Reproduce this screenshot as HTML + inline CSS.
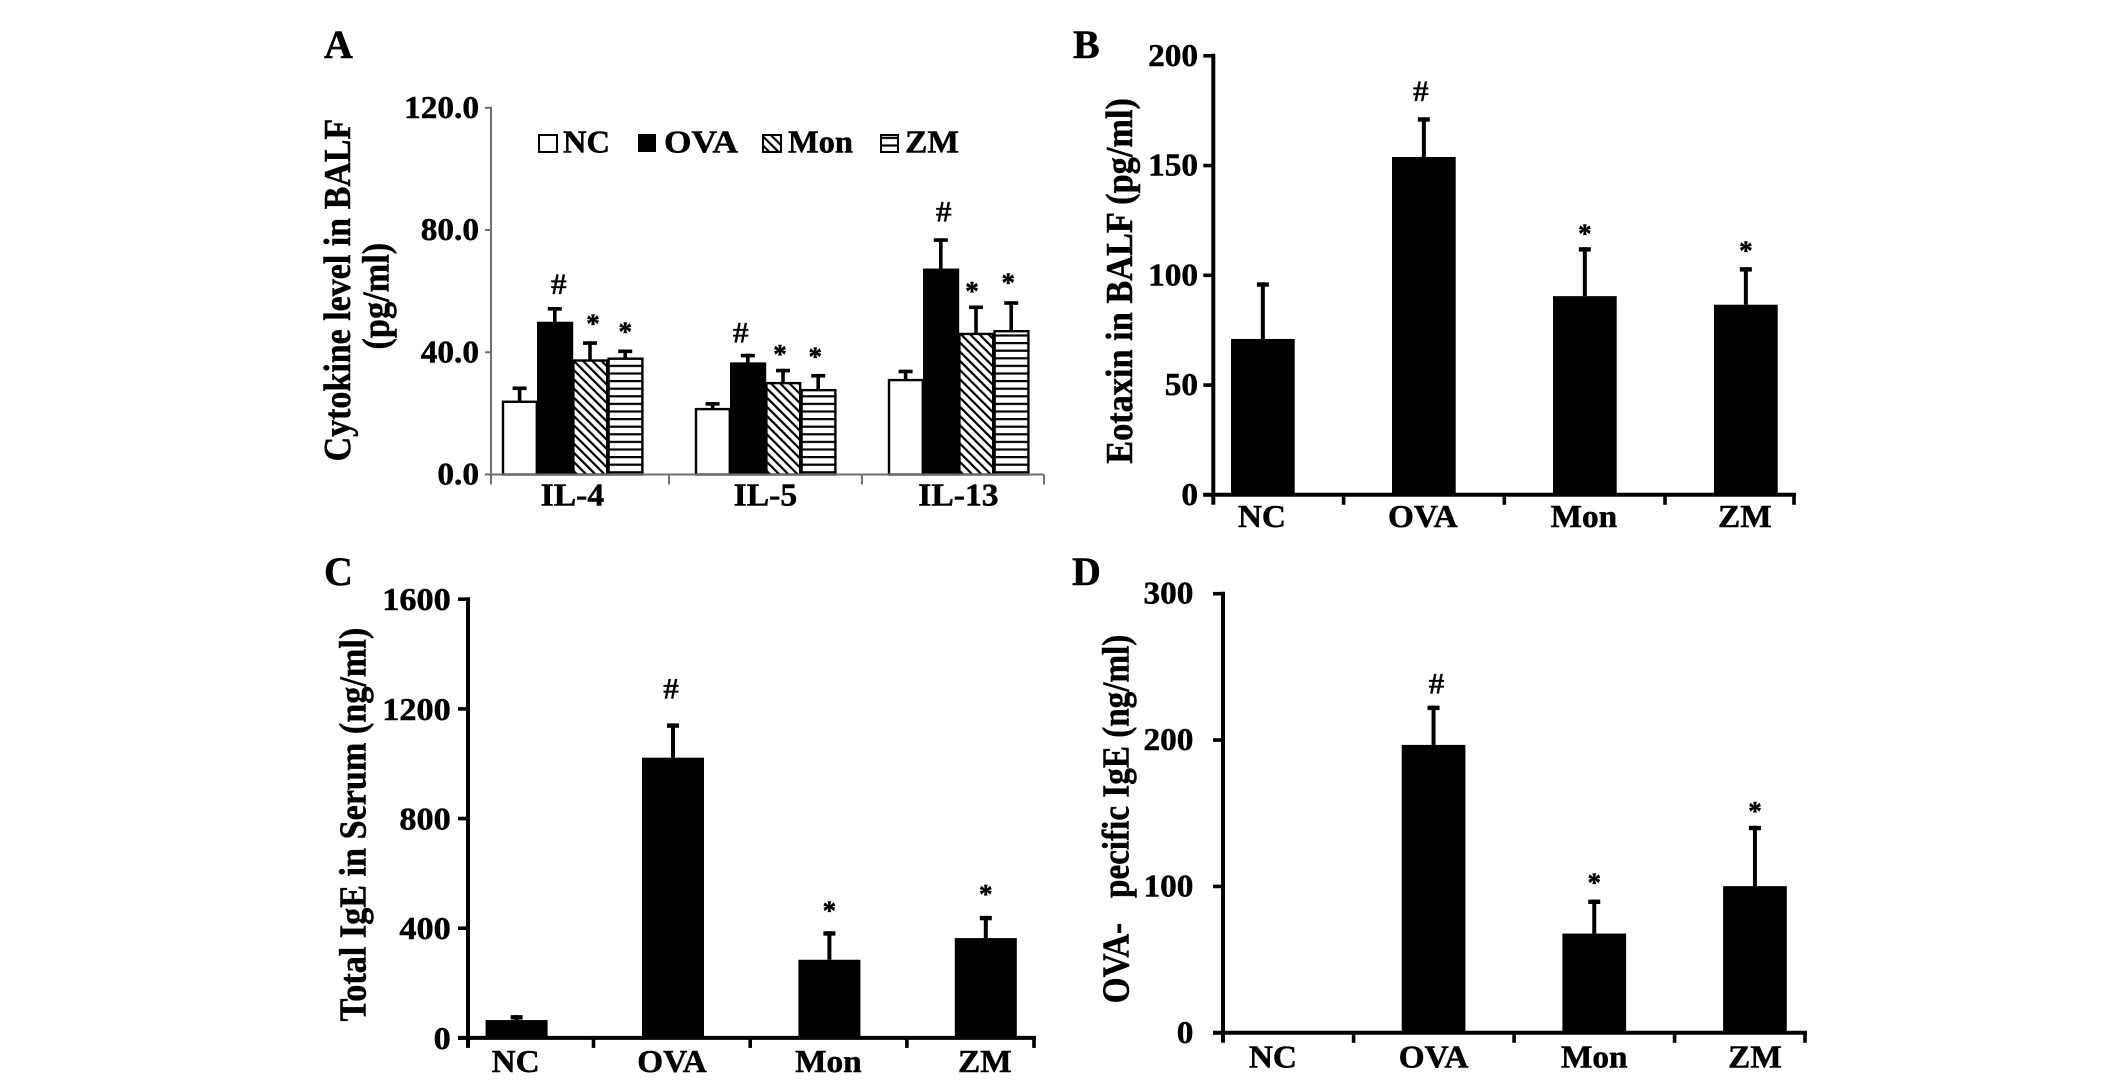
<!DOCTYPE html>
<html lang="en">
<head>
<meta charset="utf-8">
<title>Cytokine, eotaxin and IgE levels by treatment group</title>
<style>
  html, body { margin: 0; padding: 0; background: #fff; }
  svg { display: block; }
  text { font-family: "Liberation Serif", serif; fill: #000; font-weight: bold; stroke: #000; stroke-width: 0.5px; }
  svg { filter: blur(0.35px); }
</style>
</head>
<body>
<svg id="figure" xmlns="http://www.w3.org/2000/svg" width="2126" height="1080" viewBox="0 0 2126 1080">
  <defs>
    <pattern id="hatch-diagonal" patternUnits="userSpaceOnUse" width="6.5" height="6.5" patternTransform="rotate(-45) translate(0 0)">
      <rect width="6.5" height="6.5" fill="#fff"></rect>
      <rect x="0" y="0" width="2.2" height="6.5" fill="#000"></rect>
    </pattern>
    <pattern id="hatch-horizontal" patternUnits="userSpaceOnUse" width="8" height="7.6">
      <rect width="8" height="7.6" fill="#fff"></rect>
      <rect x="0" y="0" width="8" height="2.2" fill="#000"></rect>
    </pattern>
  </defs>
  <rect width="2126" height="1080" fill="#fff"></rect>

  <text x="324" y="58" font-size="40">A</text>
  <text x="1073" y="58" font-size="40">B</text>
  <text x="324" y="585" font-size="40">C</text>
  <text x="1072" y="585" font-size="40">D</text>

  <text transform="translate(350 461.4) rotate(-90)" font-size="38" textLength="342.6" lengthAdjust="spacingAndGlyphs">Cytokine level in BALF</text>
  <text transform="translate(388.5 349.5) rotate(-90)" font-size="38" textLength="106.7" lengthAdjust="spacingAndGlyphs">(pg/ml)</text>
  <text transform="translate(1132 463.8) rotate(-90)" font-size="38" textLength="365.7" lengthAdjust="spacingAndGlyphs">Eotaxin in BALF (pg/ml)</text>
  <text transform="translate(365.7 1021.4) rotate(-90)" font-size="38" textLength="393.6" lengthAdjust="spacingAndGlyphs">Total IgE in Serum (ng/ml)</text>
  <text transform="translate(1128.7 1003.2) rotate(-90)" font-size="38" textLength="368.5" lengthAdjust="spacingAndGlyphs">OVA-&#160;&#160;&#160;pecific IgE (ng/ml)</text>

  <g>
    <rect x="539" y="135" width="18" height="17" fill="#fff" stroke="#000" stroke-width="2"></rect>
    <text x="563" y="152.7" font-size="32" textLength="47" lengthAdjust="spacingAndGlyphs">NC</text>
    <rect x="638" y="134" width="18" height="18" fill="#000"></rect>
    <text x="664" y="152.7" font-size="32" textLength="74" lengthAdjust="spacingAndGlyphs">OVA</text>
    <rect x="763" y="135" width="18" height="17" fill="url(#hatch-diagonal)" stroke="#000" stroke-width="2"></rect>
    <text x="788" y="152.7" font-size="32" textLength="65" lengthAdjust="spacingAndGlyphs">Mon</text>
    <rect x="881" y="135" width="17" height="17" fill="url(#hatch-horizontal)" stroke="#000" stroke-width="2"></rect>
    <text x="905" y="152.7" font-size="32" textLength="54" lengthAdjust="spacingAndGlyphs">ZM</text>
  </g>
</svg>

<script>
// ---- Panel A data ----
const groupsA = ['IL-4', 'IL-5', 'IL-13'];
const seriesNamesA = ['NC', 'OVA', 'Mon', 'ZM'];
const ticksA = [0, 40, 80, 120];
const tickLabelsA = ['0.0', '40.0', '80.0', '120.0'];
const ncA = [23.8, 21.4, 30.9];
const ovaA = [49.6, 36.3, 67.0];
const monA = [37.3, 29.9, 46.0];
const zmA = [37.9, 27.6, 46.9];
const ncErrTopA = [28.8, 23.7, 34.3];
const ovaErrTopA = [54.8, 39.5, 77.3];
const monErrTopA = [43.6, 34.6, 55.3];
const zmErrTopA = [40.9, 32.9, 56.7];
const ovaSigLevelA = [62.3, 46.5, 86.0];
const monSigLevelA = [50.5, 40.6, 61.2];
const zmSigLevelA = [48.0, 39.8, 64.0];

// ---- Panel B data ----
const categories = ['NC', 'OVA', 'Mon', 'ZM'];
const ticksB = [0, 50, 100, 150, 200];
const valuesB = [71, 153.9, 90.5, 86.6];
const errTopB = [96.8, 172, 112.8, 103.7];
const sigSymbolsB = ['', '#', '*', '*'];
const sigLevelB = [0, 184, 120.6, 113];

// ---- Panel C data ----
const ticksC = [0, 400, 800, 1200, 1600];
const valuesC = [65, 1022, 285, 364];
const errTopC = [83, 1147, 389, 445];
const sigSymbolsC = ['', '#', '*', '*'];
const sigLevelC = [0, 1274, 478, 538];

// ---- Panel D data ----
const ticksD = [0, 100, 200, 300];
const valuesD = [0, 196.7, 67.8, 100.2];
const errTopD = [0, 223.5, 91, 141.4];
const sigSymbolsD = ['', '#', '*', '*'];
const sigLevelD = [0, 238.6, 105, 154];

const svg = document.getElementById('figure');
const NS = 'http://www.w3.org/2000/svg';

function node(parent, tag, attrs) {
  const el = document.createElementNS(NS, tag);
  for (const k in attrs) el.setAttribute(k, attrs[k]);
  parent.appendChild(el);
  return el;
}
function label(parent, str, x, y, size, sx, anchor, weight) {
  const el = node(parent, 'text', {
    transform: 'translate(' + x + ' ' + y + ') scale(' + sx + ' 1)',
    'font-size': size,
    'text-anchor': anchor,
    'font-weight': weight
  });
  el.textContent = str;
  return el;
}
function linearY(y0, yTop, max) {
  return function (v) { return y0 - (v / max) * (y0 - yTop); };
}
function line(parent, x1, y1, x2, y2, w, color) {
  return node(parent, 'line', { x1: x1, y1: y1, x2: x2, y2: y2, stroke: color, 'stroke-width': w });
}
function sigMark(parent, symbol, x, cy) {
  if (symbol === '#') {
    const hash = label(parent, '#', x, cy + 10, 30, 1.05, 'middle', 'normal');
    hash.style.strokeWidth = '0.2px';
    return hash;
  }
  return label(parent, '*', x, cy + 12.5, 27, 1, 'middle', 'bold');
}
function errorBar(parent, x, top, base, stem, capW, capH) {
  const s = line(parent, x, top, x, base, stem, '#000');
  
  
  const c = line(parent, x - capW / 2, top + capH / 2, x + capW / 2, top + capH / 2, capH, '#000');
  
  
}

// ---- Panel A ----
(function drawPanelA() {
  const g = node(svg, 'g', {});
  
  
  const y = linearY(474.5, 107.8, 120);
  const axisX = 491, axisEnd = 1044, axisColor = '#707070';
  const x = function (groupIndex) { return 502 + 193 * groupIndex; };
  const barW = 35.2;
  const seriesValues = [ncA, ovaA, monA, zmA];
  const seriesErr = [ncErrTopA, ovaErrTopA, monErrTopA, zmErrTopA];
  const seriesFill = ['#fff', '#000', 'url(#hatch-diagonal)', 'url(#hatch-horizontal)'];
  const seriesSig = [null, ovaSigLevelA, monSigLevelA, zmSigLevelA];
  const markNudge = [[0, 4, 3, 0], [0, -7, -3, -3], [0, 3, -4, -3]];

  groupsA.forEach(function (group, i) {
    seriesNamesA.forEach(function (name, s) {
      const left = x(i) + barW * s;
      const cx = left + barW / 2;
      errorBar(g, cx, y(seriesErr[s][i]), y(seriesValues[s][i]), 3.6, 14, 3.6);
      const bar = node(g, 'rect', {
        x: left + 1, y: y(seriesValues[s][i]), width: barW - 1.4,
        height: y(0) - y(seriesValues[s][i]),
        fill: seriesFill[s], stroke: '#000', 'stroke-width': 2.4
      });
      
      
      if (seriesSig[s]) {
        const mark = sigMark(g, s === 1 ? '#' : '*', cx + markNudge[i][s], y(seriesSig[s][i]));
        
        
      }
    });
    const cat = label(g, group, x(i) + barW * 2, 505.5, 32, 1.05, 'middle', 'bold');
    
    
  });

  const yAxis = line(g, axisX, y(120) - 1, axisX, 484.5, 2, axisColor);
  
  
  const xAxis = line(g, 485, y(0), axisEnd, y(0), 2, axisColor);
  
  

  ticksA.forEach(function (t, i) {
    const tick = line(g, 485, y(t), axisX, y(t), 2, axisColor);
    
    
    const lab = label(g, tickLabelsA[i], 479, y(t) + 10, 32, 1.04, 'end', 'bold');
    
    
  });
  groupsA.forEach(function (group, i) {
    const tx = i === 2 ? axisEnd : 669 + 193 * i;
    const tick = line(g, tx, y(0), tx, 484.5, 2, axisColor);
    
    
  });
})();

// ---- Panels B, C, D ----
function drawSimplePanel(cfg, ticks, values, errTop, symbols, sigLevel) {
  const g = node(svg, 'g', {});
  
  
  const max = ticks[ticks.length - 1];
  const y = linearY(cfg.y0, cfg.yTop, max);
  const x = function (i) { return cfg.first + cfg.step * i; };

  categories.forEach(function (cat, i) {
    const cx = x(i) + cfg.barW / 2;
    if (values[i] > 0) {
      errorBar(g, cx, y(errTop[i]), y(values[i]), 4, 12, 4.4);
      const bar = node(g, 'rect', {
        x: x(i), y: y(values[i]), width: cfg.barW,
        height: y(0) - y(values[i]), fill: '#000'
      });
      
      
    }
    if (symbols[i]) {
      const mark = sigMark(g, symbols[i], cx + cfg.hashDx * (symbols[i] === '#' ? 1 : 0), y(sigLevel[i]));
      
      
    }
    const lab = label(g, cat, cx + cfg.labelDx, cfg.labelY, 32, 1.04, 'middle', 'bold');
    
    
  });

  const yAxis = line(g, cfg.axisX, y(max) - 2, cfg.axisX, cfg.y0 + cfg.tickDown, 4, '#000');
  
  
  const xAxis = line(g, cfg.axisX - 10, y(0), cfg.axisEnd + 2, y(0), 4, '#000');
  
  

  ticks.forEach(function (t) {
    const tick = line(g, cfg.axisX - 10, y(t), cfg.axisX, y(t), 3.6, '#000');
    
    
    const lab = label(g, String(t), cfg.tickRight, y(t) + cfg.tickBase, 32, cfg.tickSx, 'end', 'bold');
    
    
  });
  categories.forEach(function (cat, i) {
    const tx = i === categories.length - 1 ? cfg.axisEnd : cfg.tickFirst + cfg.tickStep * i;
    const tick = line(g, tx, cfg.y0, tx, cfg.y0 + cfg.tickDown, 3.6, '#000');
    
    
  });
}

drawSimplePanel({
  name: 'panel-b-chart', axisX: 1213.3, axisEnd: 1794, y0: 494.8, yTop: 55.8, tickDown: 10,
  first: 1231, step: 161, barW: 63.7, tickFirst: 1343.6, tickStep: 160.7,
  labelY: 526.9, tickRight: 1198, tickBase: 10, tickSx: 1.04, labelDx: -1, hashDx: -3
}, ticksB, valuesB, errTopB, sigSymbolsB, sigLevelB);

drawSimplePanel({
  name: 'panel-c-chart', axisX: 468, axisEnd: 1034, y0: 1037.9, yTop: 599.2, tickDown: 10,
  first: 485.6, step: 156.4, barW: 62, tickFirst: 593.5, tickStep: 156.7,
  labelY: 1072, tickRight: 450.7, tickBase: 11, tickSx: 1.07, labelDx: -1, hashDx: -2
}, ticksC, valuesC, errTopC, sigSymbolsC, sigLevelC);

drawSimplePanel({
  name: 'panel-d-chart', axisX: 1223, axisEnd: 1805, y0: 1032.8, yTop: 593.7, tickDown: 10,
  first: 1241, step: 160.7, barW: 63.7, tickFirst: 1353.6, tickStep: 160.5,
  labelY: 1067.5, tickRight: 1193.4, tickBase: 10, tickSx: 1.04, labelDx: 0, hashDx: 3
}, ticksD, valuesD, errTopD, sigSymbolsD, sigLevelD);
</script>
</body>
</html>
